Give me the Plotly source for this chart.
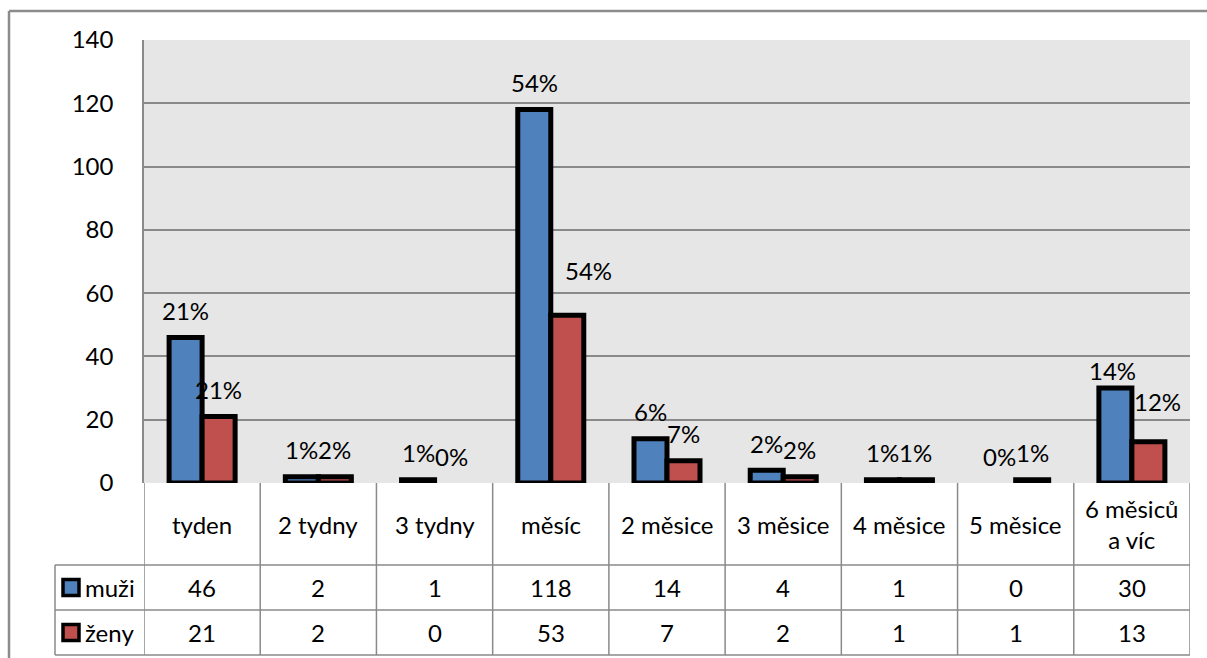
import plotly.graph_objects as go

# Data
categories = ["tyden", "2 tydny", "3 tydny", "měsíc", "2 měsice", "3 měsice",
              "4 měsice", "5 měsice", "6 měsiců<br>a víc"]
muzi = [46, 2, 1, 118, 14, 4, 1, 0, 30]
zeny = [21, 2, 0, 53, 7, 2, 1, 1, 13]
muzi_pct = ["21%", "1%", "1%", "54%", "6%", "2%", "1%", "0%", "14%"]
zeny_pct = ["21%", "2%", "0%", "54%", "7%", "2%", "1%", "1%", "12%"]
series_names = ["muži", "ženy"]
y_ticks = [0, 20, 40, 60, 80, 100, 120, 140]

BLUE = "#4F81BD"
RED = "#C0504D"
GRID = "#8A8A8A"
FONT = "Lato"
FS = 24

W, H = 1207, 658


def px(x):
    return x / W


def py(y):
    return 1 - y / H


# pixel frame of the plot area and the data table under it
PL, PR, PT, PB = 144, 1190, 40, 483
ROW1, ROW2, ROW3 = 565, 610, 655
KEY_L = 55

# hand-placed value labels: (series, category index) -> (dx, dy) in pixels
label_nudge = {(1, 3): (21, 18), (1, 8): (9, 13), (0, 8): (-3, -9)}

idx = list(range(len(categories)))

fig = go.Figure()
for vals, name, color in [(muzi, series_names[0], BLUE), (zeny, series_names[1], RED)]:
    # empty categories get no bar at all (not even an outline)
    fig.add_trace(go.Bar(
        x=idx, y=[v if v else None for v in vals], name=name,
        marker=dict(color=color, line=dict(color="black", width=5)),
        hoverinfo="skip",
    ))

annotations = []
shapes = []

# percentage labels above each bar
for s, (vals, labels, shift) in enumerate([(muzi, muzi_pct, -16.5), (zeny, zeny_pct, 16.5)]):
    for i, (v, t) in enumerate(zip(vals, labels)):
        dx, dy = label_nudge.get((s, i), (0, 0))
        annotations.append(dict(
            x=i, y=v, xref="x", yref="y", text=t, showarrow=False,
            xshift=shift + dx, yshift=27 + dy, xanchor="center", yanchor="middle",
            font=dict(family=FONT, size=FS, color="black"),
        ))

# data table: category header row and value rows
header_mid = (PB + ROW1) / 2
for i, c in enumerate(categories):
    annotations.append(dict(
        x=i, y=py(header_mid), xref="x", yref="paper", text=c, showarrow=False,
        xanchor="center", yanchor="middle",
        font=dict(family=FONT, size=FS, color="black"),
    ))
for row_vals, y_mid in [(muzi, (ROW1 + ROW2) / 2), (zeny, (ROW2 + ROW3) / 2)]:
    for i, v in enumerate(row_vals):
        annotations.append(dict(
            x=i, y=py(y_mid), xref="x", yref="paper", text=str(v), showarrow=False,
            xanchor="center", yanchor="middle",
            font=dict(family=FONT, size=FS, color="black"),
        ))

# series keys in the first column
for name, color, y_mid in [(series_names[0], BLUE, (ROW1 + ROW2) / 2),
                           (series_names[1], RED, (ROW2 + ROW3) / 2)]:
    shapes.append(dict(
        type="rect", xref="paper", yref="paper",
        x0=px(63), x1=px(79), y0=py(y_mid - 8), y1=py(y_mid + 8),
        fillcolor=color, line=dict(color="black", width=3.5), layer="above",
    ))
    annotations.append(dict(
        x=px(83), y=py(y_mid), xref="paper", yref="paper", text=name,
        showarrow=False, xanchor="left", yanchor="middle",
        font=dict(family=FONT, size=FS, color="black"),
    ))

# table grid lines
line_style = dict(color=GRID, width=1.5)
for i in range(len(categories) + 1):
    shapes.append(dict(
        type="line", xref="x", yref="paper", x0=i - 0.5, x1=i - 0.5,
        y0=py(PB), y1=py(ROW3), line=line_style,
    ))
for y in [ROW1, ROW2, ROW3]:
    shapes.append(dict(
        type="line", xref="paper", yref="paper", x0=px(KEY_L), x1=px(PR),
        y0=py(y), y1=py(y), line=line_style,
    ))
shapes.append(dict(
    type="line", xref="paper", yref="paper", x0=px(KEY_L), x1=px(KEY_L),
    y0=py(ROW1), y1=py(ROW3), line=line_style,
))

# outer chart frame
frame = dict(color="#8C8C8C", width=2.5)
shapes.append(dict(type="line", xref="paper", yref="paper",
                   x0=px(9), x1=px(9), y0=py(11), y1=0, line=frame))
shapes.append(dict(type="line", xref="paper", yref="paper",
                   x0=px(9), x1=1, y0=py(11), y1=py(11), line=frame))

fig.update_layout(
    width=W, height=H,
    margin=dict(l=0, r=0, t=0, b=0, autoexpand=False),
    paper_bgcolor="white",
    plot_bgcolor="#E6E6E6",
    barmode="group",
    bargap=0.432,
    bargroupgap=0,
    showlegend=False,
    font=dict(family=FONT, size=FS, color="black"),
    annotations=annotations,
    shapes=shapes,
    xaxis=dict(
        domain=[px(PL), px(PR)],
        range=[-0.5, len(categories) - 0.5],
        showticklabels=False, showgrid=False, zeroline=False,
        showline=False, ticks="", fixedrange=True, automargin=False,
    ),
    yaxis=dict(
        domain=[py(PB), py(PT)],
        range=[0, 140],
        tickvals=y_ticks,
        ticktext=[str(t) for t in y_ticks],
        showgrid=True, gridcolor=GRID, gridwidth=1.5,
        zeroline=False,
        showline=True, linecolor=GRID, linewidth=1.5,
        ticks="outside", ticklen=24, tickcolor="rgba(0,0,0,0)",
        tickfont=dict(family=FONT, size=FS, color="black"),
        fixedrange=True, automargin=False,
    ),
)

fig.write_html("out.html")
